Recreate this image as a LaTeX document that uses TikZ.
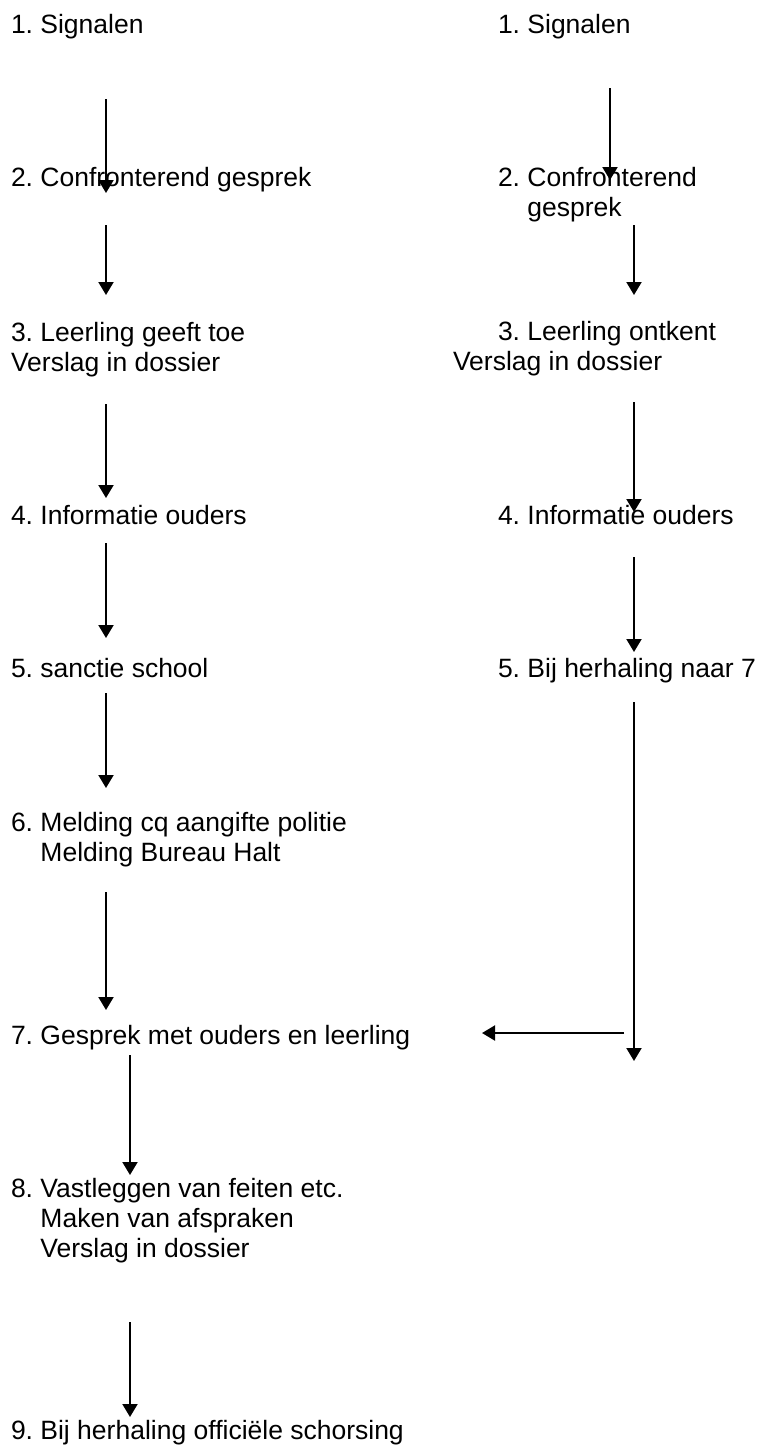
\documentclass[tikz,border=0pt]{standalone}
\usepackage{fontspec}
\setmainfont{Liberation Sans}
\frenchspacing
\usetikzlibrary{arrows.meta}
\begin{document}
\begin{tikzpicture}[x=1pt,y=-1pt,
  lbl/.style={anchor=base west,inner sep=0pt,outer sep=0pt,align=left,
    font=\fontsize{26.5}{30}\selectfont},
  arr/.style={line width=2pt,-{Triangle[width=15pt,length=13pt]}}]
\useasboundingbox[fill=white] (0,0) rectangle (760,1449);
% left column (multi-line nodes are placed at the baseline of their last line)
\node[lbl] (l1) at (11,33) {1. Signalen};
\node[lbl] (l2) at (11,186) {2. Confronterend gesprek};
\node[lbl] (l3) at (11,371) {3. Leerling geeft toe\\Verslag in dossier};
\node[lbl] (l4) at (11,524) {4. Informatie ouders};
\node[lbl] (l5) at (11,677) {5. sanctie school};
\node[lbl] (l6) at (11,861) {6. Melding cq aangifte politie\\\hphantom{6.\ }Melding Bureau Halt};
\node[lbl] (l7) at (11,1044) {7. Gesprek met ouders en leerling};
\node[lbl] (l8) at (11,1257) {8. Vastleggen van feiten etc.\\\hphantom{8.\ }Maken van afspraken\\\hphantom{8.\ }Verslag in dossier};
\node[lbl] (l9) at (11,1439) {9. Bij herhaling offici\"ele schorsing};
% right column
\node[lbl] (r1) at (498,33) {1. Signalen};
\node[lbl] (r2) at (498,216) {2. Confronterend\\\hphantom{2.\ }gesprek};
\node[lbl] (r3) at (453,370) {\hspace*{45pt}3. Leerling ontkent\\Verslag in dossier};
\node[lbl] (r4) at (498,524) {4. Informatie ouders};
\node[lbl] (r5) at (498,677) {5. Bij herhaling naar 7};
% arrow end points
\coordinate (a12s) at (106,99);   \coordinate (a12e) at (106,193);
\coordinate (a23s) at (106,225);  \coordinate (a23e) at (106,295);
\coordinate (a34s) at (106,404);  \coordinate (a34e) at (106,498);
\coordinate (a45s) at (106,543);  \coordinate (a45e) at (106,638);
\coordinate (a56s) at (106,693);  \coordinate (a56e) at (106,788);
\coordinate (a67s) at (106,892);  \coordinate (a67e) at (106,1010);
\coordinate (a78s) at (130,1055); \coordinate (a78e) at (130,1175);
\coordinate (a89s) at (130,1322); \coordinate (a89e) at (130,1417);
\coordinate (b12s) at (610,88);   \coordinate (b12e) at (610,180);
\coordinate (b23s) at (634,225);  \coordinate (b23e) at (634,295);
\coordinate (b34s) at (634,402);  \coordinate (b34e) at (634,512);
\coordinate (b45s) at (634,557);  \coordinate (b45e) at (634,652);
\coordinate (b5s) at (634,702);   \coordinate (b5e) at (634,1061);
\coordinate (hs) at (624,1033);   \coordinate (he) at (482,1033);
\draw[arr] (a12s) -- (a12e);
\draw[arr] (a23s) -- (a23e);
\draw[arr] (a34s) -- (a34e);
\draw[arr] (a45s) -- (a45e);
\draw[arr] (a56s) -- (a56e);
\draw[arr] (a67s) -- (a67e);
\draw[arr] (a78s) -- (a78e);
\draw[arr] (a89s) -- (a89e);
\draw[arr] (b12s) -- (b12e);
\draw[arr] (b23s) -- (b23e);
\draw[arr] (b34s) -- (b34e);
\draw[arr] (b45s) -- (b45e);
\draw[arr] (b5s) -- (b5e);
\draw[arr] (hs) -- (he);
\end{tikzpicture}
\end{document}
